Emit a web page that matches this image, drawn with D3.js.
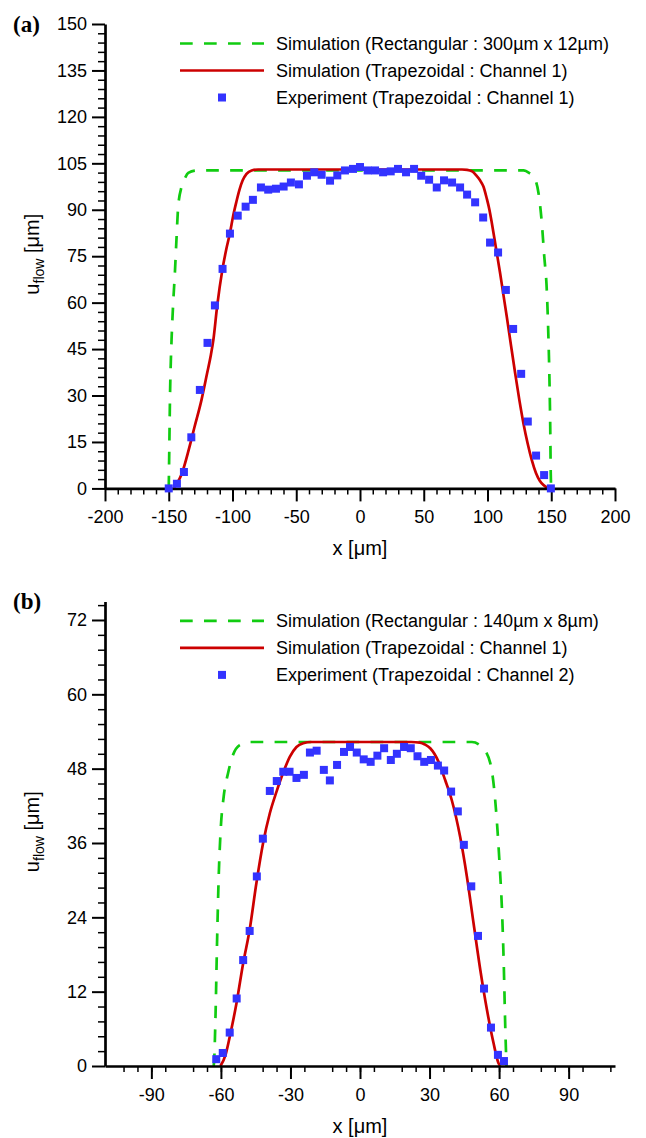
<!DOCTYPE html>
<html>
<head>
<meta charset="utf-8">
<script src="https://cdn.jsdelivr.net/npm/d3@7/dist/d3.min.js"></script>
<style>
  body { margin: 0; background: #fff; }
  svg { display: block; }
</style>
</head>
<body>
<svg id="chart" width="646" height="1138"></svg>
<script>

// ---- panel (a) data ----
var aRectX = [-150, -149.5, -149, -148.3, -147.8, -146.5, -145.2, -144, -142.6, -139.9, -137, -134.7, -128.2, 0,
              128.2, 133, 136, 140, 142.6, 144.5, 146.5, 147.7, 148.5, 149.2, 149.6, 150];
var aRectY = [0, 15, 30, 42, 48, 60, 69.5, 80, 91, 97.5, 100.5, 101.9, 102.7, 102.7,
              102.7, 101.8, 100.8, 95.4, 85.7, 75, 64, 50, 37, 20, 5, 0];

var aTrapX = [-146, -143.6, -140, -134, -130, -124.3, -120, -117, -115, -112, -108, -105, -102, -99.5, -97, -94.5, -92, -89, -85, -80, 0,
              80, 84, 88, 91, 94, 96.8, 99.5, 101.5, 103.4, 106.5, 109.9, 112.5, 115.1, 118.5, 121.7, 125, 128.2, 131.5, 134.7, 138, 141, 143.9, 147.8];
var aTrapY = [0, 1.6, 4.5, 13, 19.5, 28.6, 37, 43, 48, 59, 70.5, 77, 82.5, 88, 92.5, 96.5, 99.5, 101.6, 102.7, 103, 103,
              103, 102.9, 102.4, 101.2, 99.6, 97.5, 93.5, 90, 85.7, 78, 69.5, 62.5, 55.5, 46, 37.2, 28.5, 21, 14.5, 9.2, 5, 2.5, 1.1, 0];

var aExpX = [-150, -143.6, -138.1, -132.3, -125.6, -119.6, -113.8, -107.8, -102, -95.9, -89.7, -84, -77.7, -72, -65.9, -59.9, -54.2,
             -47.9, -41.6, -35.9, -30.1, -23.5, -17.8, -11.8, -5.5, 0, 6, 11.8, 18.1, 24.1, 29.8, 36.1, 42.4, 48, 54.2, 60.2,
             65.9, 72.2, 78.5, 84, 90.3, 96.6, 102, 108.3, 114.4, 120.1, 126.4, 131.6, 138.1, 144.4, 149.7];
var aExpY = [0, 1.5, 5.3, 16.5, 31.8, 47, 59.1, 70.9, 82.3, 88.1, 91, 93.2, 97.2, 96.5, 96.8, 97.5, 98.8,
             98.2, 101, 102.1, 101.3, 99.4, 101.1, 102.7, 103.2, 103.8, 102.7, 102.7, 102.1, 102.4, 103.2, 102.1, 103.2, 101, 99.7, 97.2,
             99.5, 98.8, 97.2, 94.9, 92.4, 87.5, 79.4, 76.2, 64.1, 51.5, 37, 21.6, 10.6, 4.3, 0];

var aXTicks = [-200, -150, -100, -50, 0, 50, 100, 150, 200];
var aYTicks = [0, 15, 30, 45, 60, 75, 90, 105, 120, 135, 150];
var aLegend = ["Simulation (Rectangular : 300µm x 12µm)",
               "Simulation (Trapezoidal : Channel 1)",
               "Experiment (Trapezoidal : Channel 1)"];

// ---- panel (b) data ----
var bRectX = [-63.2, -63, -62.3, -61.7, -61, -60.1, -58.8, -56.9, -54.8, -51.9, -47.6, 0,
              48.3, 52.6, 56.2, 57.9, 59.1, 60.2, 61.3, 62, 62.7, 63.1, 63.2];
var bRectY = [0, 0.4, 8.5, 19.3, 30, 38.1, 43.5, 47.3, 50.2, 51.8, 52.3, 52.3,
              52.3, 51.5, 48.9, 44.6, 39.2, 32.7, 24.7, 16.6, 5.8, 1, 0];

var bTrapX = [-60.2, -58, -56.2, -53.3, -50.4, -47.6, -44.7, -41.8, -38.9, -36, -33.2, -30.3, -27.4, -24.5, -21, 0,
              22, 25.9, 28, 30.3, 33.9, 36.7, 39.6, 43.2, 46.1, 49, 51.9, 54.8, 57.6, 59.8, 60.5];
var bTrapY = [0, 1.8, 4.7, 10.1, 16.6, 22, 29.5, 36, 40.8, 44.3, 47.3, 49.9, 51.5, 52.1, 52.3, 52.3,
              52.3, 52.2, 51.9, 51.3, 49.1, 46.2, 42.9, 37, 30.6, 23, 15.5, 9, 3.7, 0.4, 0];

var bExpX = [-62, -59.2, -56.2, -53.2, -50.4, -47.6, -44.5, -41.9, -38.9, -35.9, -33.1, -30.4, -27.4, -24.2, -21.6,
             -18.7, -15.6, -13, -9.9, -6.9, -4.3, -1.4, 1.6, 4.6, 7.5, 10.4, 13.3, 15.9, 19, 21.9, 24.8, 27.7,
             30.6, 33.6, 36.3, 39.3, 42.2, 44.8, 48, 50.9, 53.5, 56.5, 59.5, 62.1];
var bExpY = [1.1, 2.1, 5.4, 10.9, 17.1, 21.8, 30.6, 36.7, 44.4, 46, 47.5, 47.5, 46.5, 47, 50.6,
             50.9, 47.8, 46.1, 48.6, 50.7, 51.5, 50.6, 49.5, 49.1, 50.1, 51.3, 49.4, 50.4, 51.5, 51.3, 50, 49.1,
             49.4, 48.5, 47.7, 44.3, 41.1, 35.7, 29, 21, 12.5, 6.2, 1.8, 0.8];

var bXTicks = [-90, -60, -30, 0, 30, 60, 90];
var bYTicks = [0, 12, 24, 36, 48, 60, 72];
var bLegend = ["Simulation (Rectangular : 140µm x 8µm)",
               "Simulation (Trapezoidal : Channel 1)",
               "Experiment (Trapezoidal : Channel 2)"];

var GREEN = "#11cc11", RED = "#cc0000", BLUE = "#3333ff";
var FONT = "'Liberation Sans', Arial, Helvetica, sans-serif";

var svg = d3.select("#chart");

function zip(xs, ys) {
    return xs.map(function(x, i) { return [x, ys[i]]; });
}

// plain hyphen for negatives, like the original
function plain(d) { return String(d); }

function drawPanel(p) {

    var x = d3.scaleLinear().domain(p.xDomain).range([105, 615]);
    var y = d3.scaleLinear().domain(p.yDomain).range([p.bottom, p.top]);

    var g = svg.append("g");

    var line = d3.line()
        .x(function(d) { return x(d[0]); })
        .y(function(d) { return y(d[1]); })
        .curve(d3.curveMonotoneX);

    // curves
    g.append("path")
        .attr("d", line(zip(p.rectX, p.rectY)))
        .attr("fill", "none")
        .attr("stroke", GREEN)
        .attr("stroke-width", 2.7)
        .attr("stroke-dasharray", "12.7 11.3");

    g.append("path")
        .attr("d", line(zip(p.trapX, p.trapY)))
        .attr("fill", "none")
        .attr("stroke", RED)
        .attr("stroke-width", 2.7);

    // minor ticks
    g.append("g")
        .attr("transform", "translate(105,0)")
        .call(d3.axisLeft(y).tickValues(p.yMinor).tickSize(7).tickSizeOuter(0).tickFormat(""))
        .call(function(a) { a.select(".domain").remove(); })
        .selectAll("line").attr("stroke-width", 1.5);

    g.append("g")
        .attr("transform", "translate(0," + p.bottom + ")")
        .call(d3.axisBottom(x).tickValues(p.xMinor).tickSize(6).tickSizeOuter(0).tickFormat(""))
        .call(function(a) { a.select(".domain").remove(); })
        .selectAll("line").attr("stroke-width", 1.5);

    // major axes
    var ya = g.append("g")
        .attr("transform", "translate(105,0)")
        .call(d3.axisLeft(y).tickValues(p.yTicks).tickSize(13).tickSizeOuter(0).tickPadding(5).tickFormat(plain));
    var xa = g.append("g")
        .attr("transform", "translate(0," + p.bottom + ")")
        .call(d3.axisBottom(x).tickValues(p.xTicks).tickSize(13).tickSizeOuter(0).tickPadding(9).tickFormat(plain));

    [ya, xa].forEach(function(a) {
        a.attr("font-size", 18).attr("font-family", FONT);
        a.select(".domain").attr("stroke-width", 2.7);
        a.selectAll(".tick line").attr("stroke-width", 2);
        a.selectAll("text").attr("fill", "#000");
    });

    // points
    g.selectAll("rect.pt")
        .data(zip(p.expX, p.expY))
        .enter().append("rect")
        .attr("class", "pt")
        .attr("x", function(d) { return x(d[0]) - 4; })
        .attr("y", function(d) { return y(d[1]) - 4; })
        .attr("width", 8)
        .attr("height", 8)
        .attr("fill", BLUE);

    // panel letter
    g.append("text")
        .attr("x", 13)
        .attr("y", p.top + 8)
        .attr("font-family", "'Liberation Serif', 'Times New Roman', serif")
        .attr("font-weight", "bold")
        .attr("font-size", 23)
        .text(p.letter);

    // axis titles
    g.append("text")
        .attr("x", 360)
        .attr("y", p.bottom + 67)
        .attr("text-anchor", "middle")
        .attr("font-family", FONT)
        .attr("font-size", 20)
        .text("x [μm]");

    var yt = g.append("text")
        .attr("transform", "translate(39," + ((p.top + p.bottom) / 2 - 2) + ") rotate(-90)")
        .attr("text-anchor", "middle")
        .attr("font-family", FONT)
        .attr("font-size", 20);
    yt.append("tspan").text("u");
    yt.append("tspan").attr("font-size", 14).attr("dy", 5).text("flow");
    yt.append("tspan").attr("dy", -5).text(" [μm]");

    // legend
    var lg = g.append("g").attr("font-family", FONT).attr("font-size", 18);
    var ly = function(i) { return p.top + 19.5 + 27 * i; };

    lg.append("line")
        .attr("x1", 180).attr("x2", 264)
        .attr("y1", ly(0)).attr("y2", ly(0))
        .attr("stroke", GREEN).attr("stroke-width", 2.7)
        .attr("stroke-dasharray", "12.7 11.3");
    lg.append("line")
        .attr("x1", 180).attr("x2", 264)
        .attr("y1", ly(1)).attr("y2", ly(1))
        .attr("stroke", RED).attr("stroke-width", 2.7);
    lg.append("rect")
        .attr("x", 218).attr("y", ly(2) - 4)
        .attr("width", 8).attr("height", 8)
        .attr("fill", BLUE);

    lg.selectAll("text.lab")
        .data(p.legend)
        .enter().append("text")
        .attr("class", "lab")
        .attr("x", 276)
        .attr("y", function(d, i) { return ly(i) + 6.5; })
        .text(function(d) { return d; });
}

function minorTicks(lo, hi, step, every) {
    var out = [];
    var n = Math.round((hi - lo) / step);
    for (var i = 0; i <= n; i++) {
        if (i % every !== 0) out.push(+(lo + i * step).toFixed(3));
    }
    return out;
}

drawPanel({
    letter: "(a)",
    xDomain: [-200, 200], yDomain: [0, 150],
    top: 24, bottom: 488.4,
    rectX: aRectX, rectY: aRectY,
    trapX: aTrapX, trapY: aTrapY,
    expX: aExpX, expY: aExpY,
    xTicks: aXTicks, yTicks: aYTicks,
    xMinor: minorTicks(-200, 200, 10, 5),
    yMinor: minorTicks(0, 150, 3, 5),
    legend: aLegend
});

drawPanel({
    letter: "(b)",
    xDomain: [-110, 110], yDomain: [0, 75],
    top: 601.4, bottom: 1066,
    rectX: bRectX, rectY: bRectY,
    trapX: bTrapX, trapY: bTrapY,
    expX: bExpX, expY: bExpY,
    xTicks: bXTicks, yTicks: bYTicks,
    xMinor: minorTicks(-108, 108, 6, 5),
    yMinor: minorTicks(0, 74.4, 2.4, 5),
    legend: bLegend
});

</script>
</body>
</html>
